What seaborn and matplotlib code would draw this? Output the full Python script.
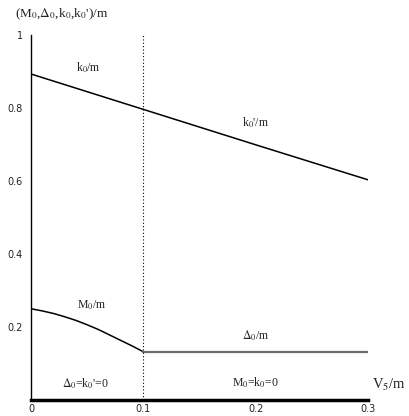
import matplotlib
matplotlib.use("Agg")
import matplotlib.pyplot as plt
import seaborn as sns

# values
v_k0 = [0.0, 0.1]
k0 = [0.893, 0.796]
v_k0p = [0.1, 0.2, 0.3]
k0p = [0.796, 0.699, 0.603]
v_M0 = [0.0, 0.01, 0.02, 0.03, 0.04, 0.05, 0.06, 0.07, 0.08, 0.09, 0.1]
M0 = [0.25, 0.244, 0.237, 0.228, 0.218, 0.206, 0.193, 0.178, 0.163, 0.148, 0.132]
v_D0 = [0.1, 0.2, 0.3]
D0 = [0.132, 0.132, 0.132]

x_ticks = [0, 0.1, 0.2, 0.3]
x_labels = ["0", "0.1", "0.2", "0.3"]
y_ticks = [0.2, 0.4, 0.6, 0.8, 1.0]
y_labels = ["0.2", "0.4", "0.6", "0.8", "1"]

sns.set_theme(style="white")
plt.rcParams["font.family"] = ["DejaVu Sans"]
plt.rcParams["mathtext.fontset"] = "stix"

fig = plt.figure(figsize=(4.1, 4.16), dpi=100)
ax = fig.add_axes([0.0756, 0.0385, 0.8224, 0.8775])

sns.lineplot(x=v_k0, y=k0, ax=ax, color="black", lw=1.1)
sns.lineplot(x=v_k0p, y=k0p, ax=ax, color="black", lw=1.1)
sns.lineplot(x=v_M0, y=M0, ax=ax, color="black", lw=1.1)
sns.lineplot(x=v_D0, y=D0, ax=ax, color="#6b6b6b", lw=1.6)

# phase boundary
ax.axvline(0.1, ymin=0, ymax=1, color="black", ls=(0, (1, 2)), lw=0.8)

ax.set_xlim(0, 0.3)
ax.set_ylim(0, 1)
for s in ["top", "right"]:
    ax.spines[s].set_visible(False)
ax.spines["left"].set_color("black")
ax.spines["left"].set_linewidth(1.0)
ax.spines["bottom"].set_color("black")
ax.spines["bottom"].set_linewidth(2.5)

ax.set_xticks(x_ticks)
ax.set_xticklabels(x_labels)
ax.set_yticks(y_ticks)
ax.set_yticklabels(y_labels)
ax.tick_params(axis="both", direction="in", length=4, width=0.8, color="black",
               labelsize=7, labelcolor="#222222")
ax.tick_params(axis="x", pad=3)
ax.tick_params(axis="y", pad=6)

serif = "Liberation Serif"
tkw = dict(fontsize=8.5, ha="center", va="center", color="#222222", family=serif)
ax.text(0.051, 0.91, r"k$_0$/m", **tkw)
ax.text(0.2, 0.76, r"k$_0$'/m", **tkw)
ax.text(0.054, 0.26, r"M$_0$/m", **tkw)
ax.text(0.2, 0.175, r"$\Delta_0$/m", **tkw)
ax.text(0.048, 0.044, r"$\Delta_0$=k$_0$'=0", **tkw)
ax.text(0.2, 0.047, r"M$_0$=k$_0$=0", **tkw)
ax.text(0.318, 0.04, r"V$_5$/m", fontsize=10.5, ha="center", va="center",
        color="#222222", family=serif, clip_on=False)
ax.text(0.027, 1.057, r"(M$_0$,$\Delta_0$,k$_0$,k$_0$')/m", fontsize=9.5,
        ha="center", va="center", color="#222222", family=serif, clip_on=False)

fig.savefig("out.png", dpi=100)
